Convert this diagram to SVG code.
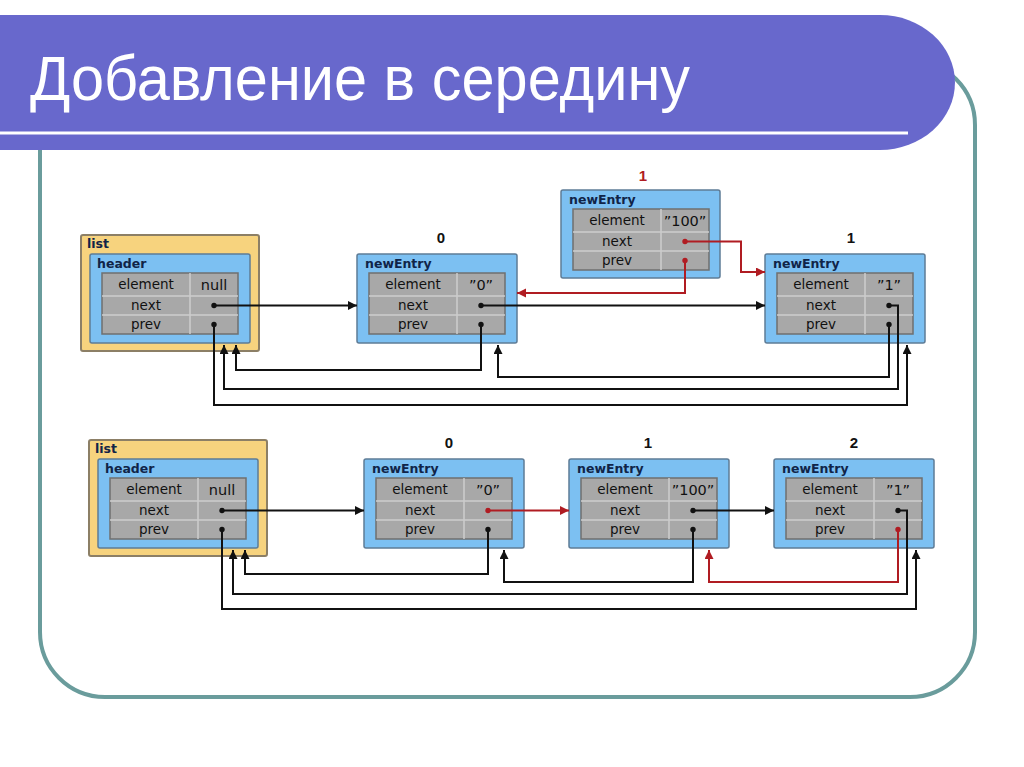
<svg xmlns="http://www.w3.org/2000/svg" width="1024" height="767" viewBox="0 0 1024 767">
<style>
.frame{fill:#fff;stroke:#6A9C9C;stroke-width:4}
.band{fill:#6868CC}
.title{font-family:"Liberation Sans",Arial,sans-serif;font-size:63px;fill:#fff}
.lst{fill:#F7D37E;stroke:#8C7F66;stroke-width:2}
.box{fill:#7CC0F2;stroke:#5E7C96;stroke-width:1.5}
.tbl{fill:#A8A8A8;stroke:#6F6F6F;stroke-width:1.5}
.sep{fill:none;stroke:#CDCDCD;stroke-width:1.5}
.nm{font-family:"DejaVu Sans",Verdana,sans-serif;font-weight:bold;font-size:12.5px;fill:#102448}
.c{font-family:"DejaVu Sans",Verdana,sans-serif;font-size:13.5px;fill:#111;text-anchor:middle}
.v{font-family:"DejaVu Sans",Verdana,sans-serif;font-size:14.5px;fill:#111;text-anchor:middle}
.idx{font-family:"Liberation Sans",Arial,sans-serif;font-weight:bold;font-size:15px;fill:#111;text-anchor:middle}
.idxr{font-family:"Liberation Sans",Arial,sans-serif;font-weight:bold;font-size:15px;fill:#B01C22;text-anchor:middle}
.k{fill:none;stroke:#111;stroke-width:2;marker-start:url(#dk);marker-end:url(#ak)}
.r{fill:none;stroke:#B01C22;stroke-width:2;marker-start:url(#dr);marker-end:url(#ar)}
</style>
<defs>
<marker id="ak" markerUnits="userSpaceOnUse" markerWidth="10" markerHeight="10" refX="9" refY="4.5" orient="auto"><path d="M0,0 L9,4.5 L0,9 z" fill="#111"/></marker>
<marker id="ar" markerUnits="userSpaceOnUse" markerWidth="10" markerHeight="10" refX="9" refY="4.5" orient="auto"><path d="M0,0 L9,4.5 L0,9 z" fill="#B01C22"/></marker>
<marker id="dk" markerUnits="userSpaceOnUse" markerWidth="8" markerHeight="8" refX="4" refY="4"><circle cx="4" cy="4" r="2.7" fill="#111"/></marker>
<marker id="dr" markerUnits="userSpaceOnUse" markerWidth="8" markerHeight="8" refX="4" refY="4"><circle cx="4" cy="4" r="2.7" fill="#B01C22"/></marker>
</defs>
<rect width="1024" height="767" fill="#fff"/>
<rect class="frame" x="40" y="60" width="935" height="637" rx="65" ry="65"/>
<path class="band" d="M0 15 H880 A75 67.5 0 0 1 880 150 H0 Z"/>
<line x1="0" y1="133" x2="908" y2="133" stroke="#fff" stroke-width="3"/>
<text class="title" x="30" y="100" textLength="660" lengthAdjust="spacingAndGlyphs">Добавление в середину</text>

<!-- top diagram -->
<g id="top-list">
<rect class="lst" x="81" y="235" width="178" height="116" rx="2"/>
<text class="nm" x="87" y="248">list</text>
</g>
<g id="top-header" transform="translate(90,254)">
<rect class="box" x="0" y="0" width="160" height="89" rx="2"/>
<text class="nm" x="7" y="14">header</text>
<rect class="tbl" x="12" y="19" width="136" height="61"/>
<path class="sep" d="M12 42H148M12 61H148M100 19V80"/>
<text class="c" x="56" y="35">element</text><text class="c" x="56" y="56">next</text><text class="c" x="56" y="75">prev</text>
<text class="v" x="124" y="36">null</text>
</g>
<g id="top-n0" transform="translate(357,254)">
<text class="idx" x="84" y="-11">0</text>
<rect class="box" x="0" y="0" width="160" height="89" rx="2"/>
<text class="nm" x="8" y="14">newEntry</text>
<rect class="tbl" x="12" y="19" width="136" height="61"/>
<path class="sep" d="M12 42H148M12 61H148M100 19V80"/>
<text class="c" x="56" y="35">element</text><text class="c" x="56" y="56">next</text><text class="c" x="56" y="75">prev</text>
<text class="v" x="124" y="36">”0”</text>
</g>
<g id="top-n100" transform="translate(561,190)">
<text class="idxr" x="82" y="-9">1</text>
<rect class="box" x="0" y="0" width="159" height="88" rx="2"/>
<text class="nm" x="8" y="14">newEntry</text>
<rect class="tbl" x="12" y="19" width="136" height="61"/>
<path class="sep" d="M12 42H148M12 61H148M100 19V80"/>
<text class="c" x="56" y="35">element</text><text class="c" x="56" y="56">next</text><text class="c" x="56" y="75">prev</text>
<text class="v" x="124" y="36">”100”</text>
</g>
<g id="top-n1" transform="translate(765,254)">
<text class="idx" x="86" y="-11">1</text>
<rect class="box" x="0" y="0" width="160" height="89" rx="2"/>
<text class="nm" x="8" y="14">newEntry</text>
<rect class="tbl" x="12" y="19" width="136" height="61"/>
<path class="sep" d="M12 42H148M12 61H148M100 19V80"/>
<text class="c" x="56" y="35">element</text><text class="c" x="56" y="56">next</text><text class="c" x="56" y="75">prev</text>
<text class="v" x="124" y="36">”1”</text>
</g>

<!-- bottom diagram -->
<g id="bot-list">
<rect class="lst" x="89" y="440" width="178" height="116" rx="2"/>
<text class="nm" x="95" y="453">list</text>
</g>
<g id="bot-header" transform="translate(98,459)">
<rect class="box" x="0" y="0" width="160" height="89" rx="2"/>
<text class="nm" x="7" y="14">header</text>
<rect class="tbl" x="12" y="19" width="136" height="61"/>
<path class="sep" d="M12 42H148M12 61H148M100 19V80"/>
<text class="c" x="56" y="35">element</text><text class="c" x="56" y="56">next</text><text class="c" x="56" y="75">prev</text>
<text class="v" x="124" y="36">null</text>
</g>
<g id="bot-n0" transform="translate(364,459)">
<text class="idx" x="85" y="-11">0</text>
<rect class="box" x="0" y="0" width="160" height="89" rx="2"/>
<text class="nm" x="8" y="14">newEntry</text>
<rect class="tbl" x="12" y="19" width="136" height="61"/>
<path class="sep" d="M12 42H148M12 61H148M100 19V80"/>
<text class="c" x="56" y="35">element</text><text class="c" x="56" y="56">next</text><text class="c" x="56" y="75">prev</text>
<text class="v" x="124" y="36">”0”</text>
</g>
<g id="bot-n1" transform="translate(569,459)">
<text class="idx" x="79" y="-11">1</text>
<rect class="box" x="0" y="0" width="160" height="89" rx="2"/>
<text class="nm" x="8" y="14">newEntry</text>
<rect class="tbl" x="12" y="19" width="136" height="61"/>
<path class="sep" d="M12 42H148M12 61H148M100 19V80"/>
<text class="c" x="56" y="35">element</text><text class="c" x="56" y="56">next</text><text class="c" x="56" y="75">prev</text>
<text class="v" x="124" y="36">”100”</text>
</g>
<g id="bot-n2" transform="translate(774,459)">
<text class="idx" x="80" y="-11">2</text>
<rect class="box" x="0" y="0" width="160" height="89" rx="2"/>
<text class="nm" x="8" y="14">newEntry</text>
<rect class="tbl" x="12" y="19" width="136" height="61"/>
<path class="sep" d="M12 42H148M12 61H148M100 19V80"/>
<text class="c" x="56" y="35">element</text><text class="c" x="56" y="56">next</text><text class="c" x="56" y="75">prev</text>
<text class="v" x="124" y="36">”1”</text>
</g>

<g id="connectors">
<path class="k" d="M214 305.5 H357"/>
<path class="k" d="M481 305.5 H765"/>
<path class="r" d="M685 241.5 H741 V272 H765"/>
<path class="r" d="M685 260.5 V293 H517"/>
<path class="k" d="M481 324.5 V370 H236 V345"/>
<path class="k" d="M889 305.5 H898 V389 H224 V345"/>
<path class="k" d="M214 324.5 V405 H907 V345"/>
<path class="k" d="M889 324.5 V377 H498 V345"/>

<path class="k" d="M222 510.5 H364"/>
<path class="r" d="M488 510.5 H569"/>
<path class="k" d="M693 510.5 H774"/>
<path class="k" d="M898 510.5 H907 V594 H233 V550"/>
<path class="k" d="M488 529.5 V574 H245 V550"/>
<path class="k" d="M222 529.5 V609 H916 V550"/>
<path class="k" d="M693 529.5 V582 H504 V550"/>
<path class="r" d="M898 529.5 V582 H709 V550"/>
</g>
</svg>
